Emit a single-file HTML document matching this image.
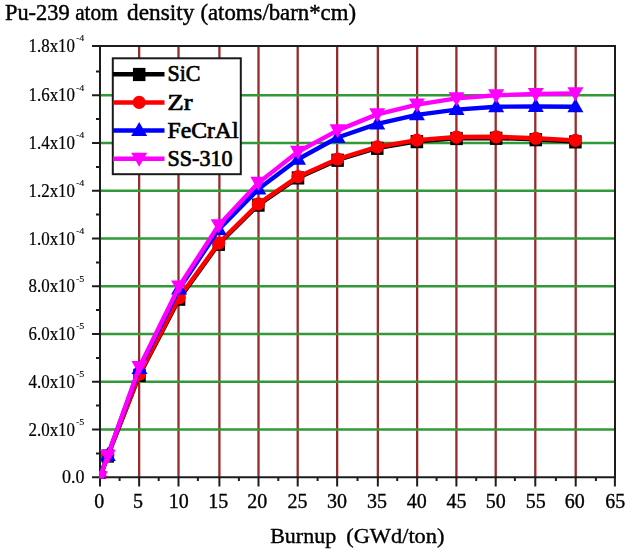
<!DOCTYPE html><html><head><meta charset="utf-8"><style>html,body{margin:0;padding:0;background:#fff;overflow:hidden}svg{display:block;filter:blur(0.3px)}text{font-family:"Liberation Serif",serif;fill:#000}</style></head><body>
<svg width="629" height="554" viewBox="0 0 629 554">
<defs><clipPath id="pc"><rect x="99" y="45" width="517" height="433.5"/></clipPath></defs>
<text x="5.0" y="19.8" font-size="23" stroke="#000" stroke-width="0.45" textLength="64.6" lengthAdjust="spacingAndGlyphs">Pu-239</text>
<text x="75.2" y="19.8" font-size="23" stroke="#000" stroke-width="0.45" textLength="42.5" lengthAdjust="spacingAndGlyphs">atom</text>
<text x="127.0" y="19.8" font-size="23" stroke="#000" stroke-width="0.45" textLength="67.3" lengthAdjust="spacingAndGlyphs">density</text>
<text x="200.4" y="19.8" font-size="23" stroke="#000" stroke-width="0.45" textLength="155.6" lengthAdjust="spacingAndGlyphs">(atoms/barn*cm)</text>
<path d="M139.15 46V477 M178.50 46V477 M219.40 46V477 M258.50 46V477 M297.70 46V477 M337.15 46V477 M377.85 46V477 M417.15 46V477 M456.40 46V477 M495.70 46V477 M535.30 46V477 M575.70 46V477" stroke="#962c2c" stroke-width="2.3" fill="none"/>
<path d="M100 429.50H615 M100 381.75H615 M100 334.00H615 M100 286.25H615 M100 238.50H615 M100 190.75H615 M100 143.00H615 M100 95.25H615" stroke="#319936" stroke-width="2.3" fill="none"/>
<rect x="100" y="46" width="515" height="431.25" fill="none" stroke="#1c1c1c" stroke-width="2"/>
<path d="M100.00 477V486.5 M139.15 477V486.5 M178.50 477V486.5 M219.40 477V486.5 M258.50 477V486.5 M297.70 477V486.5 M337.15 477V486.5 M377.85 477V486.5 M417.15 477V486.5 M456.40 477V486.5 M495.70 477V486.5 M535.30 477V486.5 M575.70 477V486.5 M614.90 477V486.5 M119.60 477V481 M158.70 477V481 M197.90 477V481 M238.90 477V481 M278.30 477V481 M317.60 477V481 M357.50 477V481 M397.20 477V481 M436.60 477V481 M476.20 477V481 M514.90 477V481 M555.90 477V481 M595.90 477V481 M92 477.25H100 M92 429.50H100 M92 381.75H100 M92 334.00H100 M92 286.25H100 M92 238.50H100 M92 190.75H100 M92 143.00H100 M92 95.25H100 M92 46.00H100 M96 453.38H100 M96 405.62H100 M96 357.88H100 M96 310.12H100 M96 262.38H100 M96 214.62H100 M96 166.88H100 M96 119.12H100 M96 71.38H100" stroke="#1c1c1c" stroke-width="2" fill="none"/>
<text x="99.30" y="508" font-size="20" stroke="#000" stroke-width="0.35" text-anchor="middle">0</text>
<text x="138.10" y="508" font-size="20" stroke="#000" stroke-width="0.35" text-anchor="middle">5</text>
<text x="178.65" y="508" font-size="20" stroke="#000" stroke-width="0.35" text-anchor="middle">10</text>
<text x="218.20" y="508" font-size="20" stroke="#000" stroke-width="0.35" text-anchor="middle">15</text>
<text x="257.20" y="508" font-size="20" stroke="#000" stroke-width="0.35" text-anchor="middle">20</text>
<text x="297.50" y="508" font-size="20" stroke="#000" stroke-width="0.35" text-anchor="middle">25</text>
<text x="337.10" y="508" font-size="20" stroke="#000" stroke-width="0.35" text-anchor="middle">30</text>
<text x="377.10" y="508" font-size="20" stroke="#000" stroke-width="0.35" text-anchor="middle">35</text>
<text x="416.70" y="508" font-size="20" stroke="#000" stroke-width="0.35" text-anchor="middle">40</text>
<text x="456.60" y="508" font-size="20" stroke="#000" stroke-width="0.35" text-anchor="middle">45</text>
<text x="495.75" y="508" font-size="20" stroke="#000" stroke-width="0.35" text-anchor="middle">50</text>
<text x="535.65" y="508" font-size="20" stroke="#000" stroke-width="0.35" text-anchor="middle">55</text>
<text x="574.80" y="508" font-size="20" stroke="#000" stroke-width="0.35" text-anchor="middle">60</text>
<text x="615.25" y="508" font-size="20" stroke="#000" stroke-width="0.35" text-anchor="middle">65</text>
<text x="28.5" y="52.20" font-size="18" stroke="#000" stroke-width="0.2" textLength="46.5" lengthAdjust="spacingAndGlyphs">1.8x10</text>
<text x="76" y="41.40" font-size="7.5" stroke="#000" stroke-width="0.1" textLength="8.3" lengthAdjust="spacingAndGlyphs">-4</text>
<text x="28.5" y="101.45" font-size="18" stroke="#000" stroke-width="0.2" textLength="46.5" lengthAdjust="spacingAndGlyphs">1.6x10</text>
<text x="76" y="90.65" font-size="7.5" stroke="#000" stroke-width="0.1" textLength="8.3" lengthAdjust="spacingAndGlyphs">-4</text>
<text x="28.5" y="149.20" font-size="18" stroke="#000" stroke-width="0.2" textLength="46.5" lengthAdjust="spacingAndGlyphs">1.4x10</text>
<text x="76" y="138.40" font-size="7.5" stroke="#000" stroke-width="0.1" textLength="8.3" lengthAdjust="spacingAndGlyphs">-4</text>
<text x="28.5" y="196.95" font-size="18" stroke="#000" stroke-width="0.2" textLength="46.5" lengthAdjust="spacingAndGlyphs">1.2x10</text>
<text x="76" y="186.15" font-size="7.5" stroke="#000" stroke-width="0.1" textLength="8.3" lengthAdjust="spacingAndGlyphs">-4</text>
<text x="28.5" y="244.70" font-size="18" stroke="#000" stroke-width="0.2" textLength="46.5" lengthAdjust="spacingAndGlyphs">1.0x10</text>
<text x="76" y="233.90" font-size="7.5" stroke="#000" stroke-width="0.1" textLength="8.3" lengthAdjust="spacingAndGlyphs">-4</text>
<text x="28.5" y="292.45" font-size="18" stroke="#000" stroke-width="0.2" textLength="46.5" lengthAdjust="spacingAndGlyphs">8.0x10</text>
<text x="76" y="281.65" font-size="7.5" stroke="#000" stroke-width="0.1" textLength="8.3" lengthAdjust="spacingAndGlyphs">-5</text>
<text x="28.5" y="340.20" font-size="18" stroke="#000" stroke-width="0.2" textLength="46.5" lengthAdjust="spacingAndGlyphs">6.0x10</text>
<text x="76" y="329.40" font-size="7.5" stroke="#000" stroke-width="0.1" textLength="8.3" lengthAdjust="spacingAndGlyphs">-5</text>
<text x="28.5" y="387.95" font-size="18" stroke="#000" stroke-width="0.2" textLength="46.5" lengthAdjust="spacingAndGlyphs">4.0x10</text>
<text x="76" y="377.15" font-size="7.5" stroke="#000" stroke-width="0.1" textLength="8.3" lengthAdjust="spacingAndGlyphs">-5</text>
<text x="28.5" y="435.70" font-size="18" stroke="#000" stroke-width="0.2" textLength="46.5" lengthAdjust="spacingAndGlyphs">2.0x10</text>
<text x="76" y="424.90" font-size="7.5" stroke="#000" stroke-width="0.1" textLength="8.3" lengthAdjust="spacingAndGlyphs">-5</text>
<text x="84.5" y="483.25" font-size="18" stroke="#000" stroke-width="0.2" text-anchor="end">0.0</text>
<text x="270.2" y="543.3" font-size="20" stroke="#000" stroke-width="0.35" textLength="66.0" lengthAdjust="spacingAndGlyphs">Burnup</text>
<text x="346.2" y="543.3" font-size="20" stroke="#000" stroke-width="0.35" textLength="98.3" lengthAdjust="spacingAndGlyphs">(GWd/ton)</text>
<g clip-path="url(#pc)">
<path d="M99.85 477.25 L107.78 455.76 L139.48 375.06 L179.11 298.90 L218.74 243.99 L258.37 204.84 L298.00 177.62 L337.63 159.95 L377.26 148.01 L416.89 141.33 L456.52 138.23 L496.15 137.99 L535.78 139.42 L575.41 141.57" stroke="#000" stroke-width="4.4" fill="none" stroke-linejoin="round"/>
<rect x="93.60" y="470.95" width="12.5" height="13.2" fill="#000"/>
<rect x="101.53" y="449.46" width="12.5" height="13.2" fill="#000"/>
<rect x="133.23" y="368.76" width="12.5" height="13.2" fill="#000"/>
<rect x="172.86" y="292.60" width="12.5" height="13.2" fill="#000"/>
<rect x="212.49" y="237.69" width="12.5" height="13.2" fill="#000"/>
<rect x="252.12" y="198.54" width="12.5" height="13.2" fill="#000"/>
<rect x="291.75" y="171.32" width="12.5" height="13.2" fill="#000"/>
<rect x="331.38" y="153.65" width="12.5" height="13.2" fill="#000"/>
<rect x="371.01" y="141.71" width="12.5" height="13.2" fill="#000"/>
<rect x="410.64" y="135.03" width="12.5" height="13.2" fill="#000"/>
<rect x="450.27" y="131.93" width="12.5" height="13.2" fill="#000"/>
<rect x="489.90" y="131.69" width="12.5" height="13.2" fill="#000"/>
<rect x="529.53" y="133.12" width="12.5" height="13.2" fill="#000"/>
<rect x="569.16" y="135.27" width="12.5" height="13.2" fill="#000"/>
<path d="M99.85 477.25 L107.78 455.52 L139.48 374.11 L179.11 297.71 L218.74 243.04 L258.37 203.88 L298.00 176.66 L337.63 159.00 L377.26 146.82 L416.89 140.13 L456.52 137.03 L496.15 136.79 L535.78 138.23 L575.41 140.37" stroke="#f00" stroke-width="4.4" fill="none" stroke-linejoin="round"/>
<circle cx="99.85" cy="477.25" r="6.6" fill="#f00"/>
<circle cx="107.78" cy="455.52" r="6.6" fill="#f00"/>
<circle cx="139.48" cy="374.11" r="6.6" fill="#f00"/>
<circle cx="179.11" cy="297.71" r="6.6" fill="#f00"/>
<circle cx="218.74" cy="243.04" r="6.6" fill="#f00"/>
<circle cx="258.37" cy="203.88" r="6.6" fill="#f00"/>
<circle cx="298.00" cy="176.66" r="6.6" fill="#f00"/>
<circle cx="337.63" cy="159.00" r="6.6" fill="#f00"/>
<circle cx="377.26" cy="146.82" r="6.6" fill="#f00"/>
<circle cx="416.89" cy="140.13" r="6.6" fill="#f00"/>
<circle cx="456.52" cy="137.03" r="6.6" fill="#f00"/>
<circle cx="496.15" cy="136.79" r="6.6" fill="#f00"/>
<circle cx="535.78" cy="138.23" r="6.6" fill="#f00"/>
<circle cx="575.41" cy="140.37" r="6.6" fill="#f00"/>
<path d="M99.85 477.25 L107.78 455.52 L139.48 368.62 L179.11 289.12 L218.74 229.43 L258.37 189.08 L298.00 159.24 L337.63 137.51 L377.26 123.90 L416.89 114.83 L456.52 109.57 L496.15 106.71 L535.78 106.47 L575.41 106.71" stroke="#00f" stroke-width="4.4" fill="none" stroke-linejoin="round"/>
<path d="M99.85 468.75L107.85 482.75L91.85 482.75Z" fill="#00f"/>
<path d="M107.78 447.02L115.78 461.02L99.78 461.02Z" fill="#00f"/>
<path d="M139.48 360.12L147.48 374.12L131.48 374.12Z" fill="#00f"/>
<path d="M179.11 280.62L187.11 294.62L171.11 294.62Z" fill="#00f"/>
<path d="M218.74 220.93L226.74 234.93L210.74 234.93Z" fill="#00f"/>
<path d="M258.37 180.58L266.37 194.58L250.37 194.58Z" fill="#00f"/>
<path d="M298.00 150.74L306.00 164.74L290.00 164.74Z" fill="#00f"/>
<path d="M337.63 129.01L345.63 143.01L329.63 143.01Z" fill="#00f"/>
<path d="M377.26 115.40L385.26 129.40L369.26 129.40Z" fill="#00f"/>
<path d="M416.89 106.33L424.89 120.33L408.89 120.33Z" fill="#00f"/>
<path d="M456.52 101.07L464.52 115.07L448.52 115.07Z" fill="#00f"/>
<path d="M496.15 98.21L504.15 112.21L488.15 112.21Z" fill="#00f"/>
<path d="M535.78 97.97L543.78 111.97L527.78 111.97Z" fill="#00f"/>
<path d="M575.41 98.21L583.41 112.21L567.41 112.21Z" fill="#00f"/>
<path d="M99.85 477.25 L107.78 455.76 L139.48 366.95 L179.11 286.49 L218.74 225.13 L258.37 182.87 L298.00 151.83 L337.63 130.35 L377.26 114.35 L416.89 104.56 L456.52 98.35 L496.15 95.25 L535.78 94.06 L575.41 93.34" stroke="#f0f" stroke-width="4.4" fill="none" stroke-linejoin="round"/>
<path d="M99.85 485.25L107.85 471.25L91.85 471.25Z" fill="#f0f"/>
<path d="M107.78 463.76L115.78 449.76L99.78 449.76Z" fill="#f0f"/>
<path d="M139.48 374.95L147.48 360.95L131.48 360.95Z" fill="#f0f"/>
<path d="M179.11 294.49L187.11 280.49L171.11 280.49Z" fill="#f0f"/>
<path d="M218.74 233.13L226.74 219.13L210.74 219.13Z" fill="#f0f"/>
<path d="M258.37 190.87L266.37 176.87L250.37 176.87Z" fill="#f0f"/>
<path d="M298.00 159.83L306.00 145.83L290.00 145.83Z" fill="#f0f"/>
<path d="M337.63 138.35L345.63 124.35L329.63 124.35Z" fill="#f0f"/>
<path d="M377.26 122.35L385.26 108.35L369.26 108.35Z" fill="#f0f"/>
<path d="M416.89 112.56L424.89 98.56L408.89 98.56Z" fill="#f0f"/>
<path d="M456.52 106.35L464.52 92.35L448.52 92.35Z" fill="#f0f"/>
<path d="M496.15 103.25L504.15 89.25L488.15 89.25Z" fill="#f0f"/>
<path d="M535.78 102.06L543.78 88.06L527.78 88.06Z" fill="#f0f"/>
<path d="M575.41 101.34L583.41 87.34L567.41 87.34Z" fill="#f0f"/>
</g>
<rect x="112.8" y="58.3" width="128" height="115.9" fill="#fff" stroke="#1a1a1a" stroke-width="2"/>
<path d="M113 74.2H164.5" stroke="#000" stroke-width="4.5"/>
<rect x="132.95" y="67.90" width="12.5" height="13.2" fill="#000"/>
<text x="167.5" y="81.4" font-size="23" stroke="#000" stroke-width="0.7" textLength="33" lengthAdjust="spacingAndGlyphs">SiC</text>
<path d="M113 102.4H164.5" stroke="#f00" stroke-width="4.5"/>
<circle cx="139.20" cy="102.40" r="6.6" fill="#f00"/>
<text x="167.5" y="109.6" font-size="23" stroke="#000" stroke-width="0.7" textLength="25" lengthAdjust="spacingAndGlyphs">Zr</text>
<path d="M113 130.4H164.5" stroke="#00f" stroke-width="4.5"/>
<path d="M139.20 121.90L147.20 135.90L131.20 135.90Z" fill="#00f"/>
<text x="167.5" y="137.6" font-size="23" stroke="#000" stroke-width="0.7" textLength="71" lengthAdjust="spacingAndGlyphs">FeCrAl</text>
<path d="M113 158.7H164.5" stroke="#f0f" stroke-width="4.5"/>
<path d="M139.20 166.70L147.20 152.70L131.20 152.70Z" fill="#f0f"/>
<text x="167.5" y="165.9" font-size="23" stroke="#000" stroke-width="0.7" textLength="65" lengthAdjust="spacingAndGlyphs">SS-310</text>
</svg></body></html>
